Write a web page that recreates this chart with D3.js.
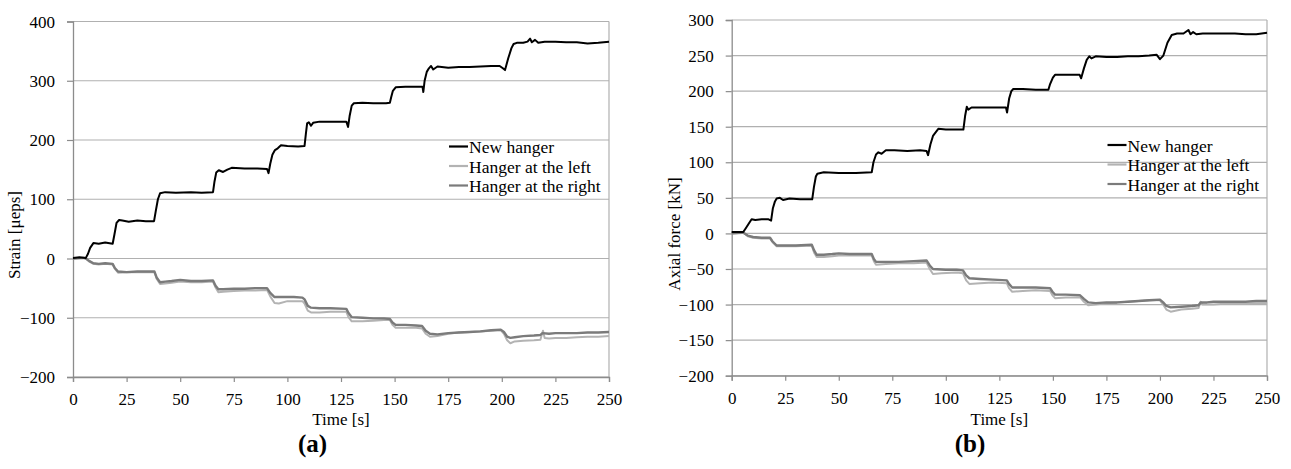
<!DOCTYPE html>
<html>
<head>
<meta charset="utf-8">
<script src="https://cdn.jsdelivr.net/npm/d3@7/dist/d3.min.js"></script>
<style>
  html, body { margin: 0; padding: 0; background: #fff; }
  svg { display: block; }
  svg text { font-family: "Liberation Serif", "Times New Roman", serif !important; fill: #000; }
</style>
</head>
<body>
<svg id="chart" width="1291" height="469"></svg>
<script>
// ---------------- DATA ----------------
const xTicks = [0, 25, 50, 75, 100, 125, 150, 175, 200, 225, 250];
const strainTicks = [-200, -100, 0, 100, 200, 300, 400];
const forceTicks = [-200, -150, -100, -50, 0, 50, 100, 150, 200, 250, 300];
const seriesNames = ["New hanger", "Hanger at the left", "Hanger at the right"];
const panelLabels = ["(a)", "(b)"];
const yTitles = ["Strain [\u03bceps]", "Axial force [kN]"];
const xTitle = "Time [s]";

// (a) Strain [μeps] vs time [s]
const strainNew = [[0,1],[3,2],[6,1],[7,8],[8,18],[9.5,26],[12,25],[15,27],[18.5,25],[19.3,40],[20.3,60],[21.5,65],[23,64],[26,62],[30,64],[34,63],[37.8,63],[38.6,80],[39.6,100],[40.6,110],[43,112],[48,111],[55,112],[60,111],[65.3,112],[66,130],[66.8,145],[68,149],[70,146],[72,150],[74,153],[80,152],[86,152],[90.5,151],[91.2,144],[92,160],[93,175],[94.2,183],[95.5,186],[97,191],[100,190],[105,189],[108,190],[108.6,210],[109.2,228],[110,230],[111,224],[112,229],[115,231],[120,231],[127.5,231],[128.3,222],[129,240],[130,258],[131,262],[135,263],[140,262],[146,262],[147.8,263],[148.4,272],[149.2,283],[150.5,289],[155,290],[160,290],[163,290],[163.4,281],[164,300],[165,315],[166,321],[167,325],[168,319],[170,324],[175,322],[180,323],[185,323],[190,324],[195,325],[199,325],[200.5,321],[201.5,318],[203,338],[204.5,355],[205.5,362],[207,364],[210,364],[212,366],[213.2,371],[214,365],[215.5,369],[217,364],[220,366],[225,366],[230,365],[235,365],[240,363],[245,364],[250,366]];
const strainLeft = [[0,0],[5,1],[6,0],[7.5,-5],[9.5,-9],[12,-10],[15,-9],[18.5,-10],[19.5,-17],[21,-24],[25,-23],[30,-23],[35,-23],[38,-23],[39,-34],[40.6,-43],[43,-42],[46,-41],[50,-39],[55,-40],[60,-40],[65.3,-39],[66.5,-49],[67.8,-57],[70,-56],[75,-55],[80,-54],[85,-54],[90.5,-53],[92,-64],[94,-75],[96,-76],[100,-72],[103,-72],[107,-72],[108,-76],[109.5,-88],[111,-91],[115,-91],[120,-90],[127.5,-90],[128.5,-99],[130,-106],[135,-106],[140,-105],[145,-104],[147.8,-104],[149,-112],[150.5,-117],[155,-117],[160,-117],[162.8,-118],[164.5,-127],[166.5,-132],[170,-131],[175,-127],[180,-125],[185,-124],[190,-123],[195,-122],[199.5,-121],[201,-127],[202.5,-138],[204,-143],[206,-140],[210,-139],[215,-138],[218,-137],[219.2,-122],[220,-134],[222,-135],[225,-134],[230,-134],[235,-133],[240,-132],[245,-132],[250,-131]];
const strainRight = [[0,0],[5,1],[6,0],[7.5,-4],[9.5,-8],[12,-9],[15,-8],[18.5,-9],[19.5,-16],[21,-22],[25,-23],[30,-22],[35,-22],[38,-22],[39,-32],[40.6,-40],[43,-39],[46,-38],[50,-36],[55,-38],[60,-38],[65.3,-37],[66.5,-46],[67.8,-52],[70,-52],[75,-51],[80,-51],[85,-50],[90.5,-50],[92,-58],[94,-65],[98,-65],[103,-65],[107,-66],[108,-69],[109.5,-80],[111,-83],[115,-84],[120,-84],[127.5,-85],[128.5,-92],[130,-99],[135,-100],[140,-101],[145,-101],[147.8,-102],[149,-108],[150.5,-112],[155,-112],[160,-113],[162.8,-114],[164.5,-122],[166.5,-127],[170,-128],[175,-126],[180,-125],[185,-124],[190,-123],[195,-121],[199.5,-120],[201,-124],[202.5,-132],[204,-134],[206,-133],[210,-131],[215,-130],[218,-129],[219,-126],[222,-127],[225,-126],[230,-126],[235,-126],[240,-125],[245,-125],[250,-124]];

// (b) Axial force [kN] vs time [s]
const forceNew = [[0,2],[3,2],[5.4,2],[6.5,7],[8,14],[9.3,20],[11,19],[14,20],[17,20],[18.4,18],[19.2,35],[20.2,45],[21,49],[22.5,50],[24,47],[27,49],[32,48],[37.6,48],[38.4,65],[39.3,80],[40,84],[43,86],[50,85],[58,85],[65.4,86],[66.2,100],[67.4,111],[68.5,114],[70,112],[72,117],[76,117],[82,116],[88,117],[91,116],[91.7,110],[92.8,125],[94,137],[95.5,143],[96.5,147],[100,146],[105,146],[108.2,146],[109,165],[109.8,178],[110.5,174],[112,177],[116,177],[122,177],[128.1,177],[128.6,170],[129.6,190],[130.6,200],[131.5,203],[136,203],[142,202],[147.9,202],[148.7,210],[150,219],[151,223],[156,223],[162.5,223],[163.2,218],[164.5,232],[165.8,244],[167,249],[168,246],[170,249],[175,248],[180,248],[185,249],[190,249],[195,250],[198.5,251],[200,245],[201.6,250],[203.5,268],[205.5,279],[208,281],[211,281],[213.3,286],[214.3,280],[215.5,283],[217,280],[220,281],[225,281],[230,281],[235,281],[240,280],[245,280],[250,282]];
const forceLeft = [[0,0],[5,1],[6,0],[7.5,-4],[10,-6],[14,-7],[17.9,-7],[19,-12],[21,-18],[25,-18],[30,-18],[37.4,-17],[38.5,-27],[39.7,-33],[43,-33],[47,-32],[50,-31],[55,-31],[60,-31],[65.4,-31],[66.4,-39],[67.4,-44],[72,-43],[78,-42],[85,-42],[91,-41],[92.5,-50],[94,-57],[98,-56],[105,-55],[108,-56],[109.5,-66],[111,-71],[116,-70],[122,-69],[128.5,-70],[129.5,-77],[131,-82],[136,-81],[142,-80],[148.7,-81],[149.8,-87],[151,-91],[156,-90],[162.7,-90],[164.5,-96],[166.5,-101],[170,-100],[175,-98],[180,-97],[185,-96],[190,-95],[195,-94],[200,-94],[201.5,-100],[203,-107],[205,-110],[210,-107],[215,-106],[218,-105],[219,-96],[220,-100],[222,-100],[225,-100],[230,-99],[235,-99],[240,-99],[245,-98],[250,-98]];
const forceRight = [[0,0],[5,1],[6,0],[7.5,-3],[10,-5],[14,-6],[17.9,-6],[19,-11],[21,-17],[25,-17],[30,-17],[37.4,-16],[38.5,-24],[39.7,-30],[43,-30],[47,-29],[50,-28],[55,-29],[60,-29],[65.4,-29],[66.4,-36],[67.4,-40],[72,-40],[78,-40],[85,-39],[91,-38],[92.5,-45],[94,-50],[100,-51],[105,-51],[108,-52],[109.5,-59],[111,-63],[116,-64],[122,-65],[128.5,-66],[129.5,-71],[131,-76],[136,-76],[142,-76],[148.7,-77],[149.8,-82],[151,-86],[156,-86],[162.7,-87],[164.5,-92],[166.5,-97],[170,-98],[175,-97],[180,-97],[185,-96],[190,-95],[195,-94],[200,-93],[201.5,-97],[203,-102],[205,-104],[210,-103],[215,-102],[218,-101],[219,-97],[222,-97],[225,-96],[230,-96],[235,-96],[240,-96],[245,-95],[250,-95]];

// ---------------- STYLE / LAYOUT ----------------
const seriesColors = ["#000000", "#b3b3b3", "#7b7b7b"];
const seriesWidths = [2, 2, 2.4];
const gridColor = "#b0b0b0";
const axisColor = "#8c8c8c";
const serif = '"Liberation Serif", "Times New Roman", serif';

const panels = [
  { left: 73, right: 609, top: 21.5, bottom: 377, yDomain: [-200, 400], yTicks: strainTicks,
    series: [strainNew, strainLeft, strainRight], yTitle: yTitles[0], yTitleX: 20, yTitleY: 235,
    legendX: 449, legendY: 146.5, label: panelLabels[0], labelX: 312.5 },
  { left: 731.7, right: 1267, top: 20, bottom: 375.7, yDomain: [-200, 300], yTicks: forceTicks,
    series: [forceNew, forceLeft, forceRight], yTitle: yTitles[1], yTitleX: 680, yTitleY: 234,
    legendX: 1107.5, legendY: 145, label: panelLabels[1], labelX: 970 }
];

const svg = d3.select("#chart");

panels.forEach(p => {
  const x = d3.scaleLinear().domain([0, 250]).range([p.left, p.right]);
  const y = d3.scaleLinear().domain(p.yDomain).range([p.bottom, p.top]);
  const g = svg.append("g");

  // gridlines
  g.append("g").selectAll("line").data(p.yTicks).join("line")
    .attr("x1", p.left).attr("x2", p.right)
    .attr("y1", d => y(d)).attr("y2", d => y(d))
    .attr("stroke", gridColor).attr("stroke-width", 1.2);
  // right border
  g.append("line").attr("x1", p.right).attr("x2", p.right)
    .attr("y1", p.top).attr("y2", p.bottom)
    .attr("stroke", gridColor).attr("stroke-width", 1.2);

  // y axis
  const yAxis = g.append("g").attr("transform", `translate(${p.left},0)`)
    .call(d3.axisLeft(y).tickValues(p.yTicks).tickSize(6).tickPadding(12)
      .tickFormat(d => d < 0 ? "\u2212" + Math.abs(d) : String(d)));
  yAxis.attr("font-family", null);
  yAxis.select(".domain").attr("stroke", axisColor).attr("stroke-width", 1.3);
  yAxis.selectAll(".tick line").attr("stroke", axisColor).attr("stroke-width", 1.2);
  yAxis.selectAll(".tick text").style("font-family", serif).style("font-size", "17px")
    .attr("fill", "#000").attr("dy", "0.33em");

  // x axis
  const xAxis = g.append("g").attr("transform", `translate(0,${p.bottom})`)
    .call(d3.axisBottom(x).tickValues(xTicks).tickSize(5).tickPadding(11));
  xAxis.attr("font-family", null);
  xAxis.select(".domain").attr("stroke", axisColor).attr("stroke-width", 1.3);
  xAxis.selectAll(".tick line").attr("stroke", axisColor).attr("stroke-width", 1.2);
  xAxis.selectAll(".tick text").style("font-family", serif).style("font-size", "17px")
    .attr("fill", "#000");

  // series lines (left, right, then new so black is on top)
  const line = d3.line().x(d => x(d[0])).y(d => y(d[1]));
  [1, 2, 0].forEach(i => {
    g.append("path").datum(p.series[i])
      .attr("d", line)
      .attr("fill", "none")
      .attr("stroke", seriesColors[i])
      .attr("stroke-width", seriesWidths[i])
      .attr("stroke-linejoin", "round");
  });

  // legend
  const lg = g.append("g");
  seriesNames.forEach((name, i) => {
    const ly = p.legendY + i * 19.5;
    lg.append("line").attr("x1", p.legendX).attr("x2", p.legendX + 19)
      .attr("y1", ly).attr("y2", ly)
      .attr("stroke", seriesColors[i]).attr("stroke-width", 2.2);
    lg.append("text").attr("x", p.legendX + 20).attr("y", ly + 6.5)
      .style("font-size", "17.5px").text(name);
  });

  // axis titles
  g.append("text").attr("x", (p.left + p.right) / 2).attr("y", 425)
    .attr("text-anchor", "middle").style("font-size", "17px").text(xTitle);
  g.append("text").attr("transform", `translate(${p.yTitleX},${p.yTitleY}) rotate(-90)`)
    .attr("text-anchor", "middle").style("font-size", "17px").text(p.yTitle);

  // panel label
  g.append("text").attr("x", p.labelX).attr("y", 452)
    .attr("text-anchor", "middle").style("font-size", "25px").style("font-weight", "bold")
    .text(p.label);
});
</script>
</body>
</html>
